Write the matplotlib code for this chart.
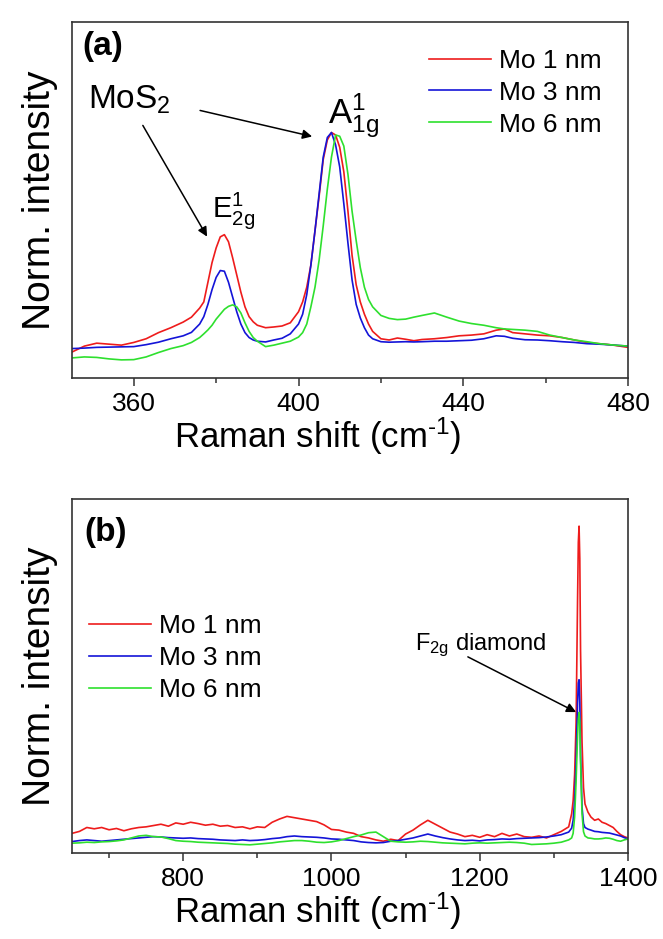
import matplotlib
matplotlib.use('Agg')
import matplotlib.pyplot as plt

plt.rcParams['font.family'] = ['Liberation Sans', 'DejaVu Sans']
plt.rcParams['mathtext.fontset'] = 'custom'
plt.rcParams['mathtext.rm'] = 'Liberation Sans'
plt.rcParams['mathtext.it'] = 'Liberation Sans'

labels = ['Mo 1 nm', 'Mo 3 nm', 'Mo 6 nm']
colors = ['#ee1c1c', '#1414d8', '#2ee02e']

# (a) MoS2 region
shift_a = [345, 348, 351, 354, 357, 360, 363, 366, 369, 372,
           374, 376, 377, 378, 379, 380, 381, 382, 383, 384,
           385, 386, 387, 388, 389, 390, 392, 394, 396, 398,
           400, 401, 402, 403, 404, 405, 406, 407, 408, 409,
           410, 411, 412, 413, 414, 415, 416, 417, 418, 420,
           422, 424, 426, 428, 430, 433, 436, 439, 442, 445,
           448, 450, 452, 455, 458, 461, 464, 467, 470, 473,
           476, 480]
mo1_a = [0.106, 0.130, 0.142, 0.138, 0.134, 0.145, 0.160, 0.185, 0.205, 0.228,
         0.248, 0.285, 0.310, 0.390, 0.470, 0.530, 0.575, 0.584, 0.555, 0.490,
         0.420, 0.350, 0.290, 0.250, 0.229, 0.215, 0.205, 0.208, 0.212, 0.225,
         0.270, 0.310, 0.370, 0.460, 0.600, 0.740, 0.890, 0.970, 1.000, 0.990,
         0.940, 0.840, 0.680, 0.500, 0.380, 0.310, 0.260, 0.220, 0.190, 0.160,
         0.155, 0.163, 0.158, 0.152, 0.157, 0.160, 0.165, 0.172, 0.175, 0.180,
         0.195, 0.200, 0.185, 0.180, 0.175, 0.172, 0.165, 0.155, 0.145, 0.140,
         0.135, 0.125]
mo3_a = [0.120, 0.122, 0.125, 0.126, 0.127, 0.128, 0.136, 0.146, 0.160, 0.172,
         0.186, 0.220, 0.250, 0.300, 0.360, 0.410, 0.438, 0.435, 0.390, 0.330,
         0.270, 0.220, 0.185, 0.165, 0.155, 0.150, 0.147, 0.155, 0.162, 0.180,
         0.220, 0.260, 0.340, 0.460, 0.600, 0.750, 0.900, 0.980, 1.000, 0.950,
         0.860, 0.710, 0.550, 0.400, 0.300, 0.245, 0.205, 0.175, 0.160, 0.148,
         0.146, 0.147, 0.148, 0.147, 0.148, 0.150, 0.150, 0.152, 0.154, 0.160,
         0.172, 0.170, 0.162, 0.156, 0.155, 0.152, 0.148, 0.145, 0.140, 0.138,
         0.135, 0.130]
mo6_a = [0.082, 0.086, 0.084, 0.078, 0.074, 0.075, 0.086, 0.104, 0.120, 0.132,
         0.145, 0.165, 0.180, 0.196, 0.215, 0.240, 0.260, 0.280, 0.292, 0.298,
         0.290, 0.265, 0.225, 0.190, 0.165, 0.150, 0.128, 0.134, 0.142, 0.150,
         0.167, 0.185, 0.220, 0.290, 0.370, 0.480, 0.620, 0.770, 0.900, 0.990,
         0.985, 0.945, 0.830, 0.680, 0.560, 0.450, 0.370, 0.320, 0.290, 0.255,
         0.243, 0.238, 0.240, 0.248, 0.255, 0.265, 0.248, 0.232, 0.222, 0.215,
         0.205, 0.200, 0.198, 0.195, 0.190, 0.175, 0.165, 0.155, 0.148, 0.140,
         0.135, 0.130]

# (b) wide range with diamond line
shift_b = [650, 660, 670, 680, 690, 700, 710, 720, 730, 740,
           750, 760, 770, 780, 790, 800, 810, 820, 830, 840,
           850, 860, 870, 880, 890, 900, 910, 920, 930, 940,
           950, 960, 970, 980, 990, 1000, 1010, 1020, 1030, 1040,
           1050, 1060, 1070, 1080, 1090, 1100, 1110, 1120, 1130, 1140,
           1150, 1160, 1170, 1180, 1190, 1200, 1210, 1220, 1230, 1240,
           1250, 1260, 1270, 1280, 1290, 1300, 1310, 1320,
           1324, 1326, 1328, 1330, 1332, 1333, 1334, 1335, 1336, 1338,
           1340, 1342, 1346, 1350, 1355, 1360, 1365, 1370, 1375, 1380,
           1385, 1390, 1395, 1400]
mo1_b = [0.060, 0.066, 0.078, 0.074, 0.078, 0.071, 0.075, 0.068, 0.074, 0.078,
         0.080, 0.084, 0.088, 0.082, 0.092, 0.088, 0.094, 0.090, 0.085, 0.088,
         0.082, 0.084, 0.078, 0.080, 0.074, 0.080, 0.078, 0.094, 0.104, 0.112,
         0.108, 0.104, 0.100, 0.096, 0.086, 0.072, 0.070, 0.064, 0.060, 0.050,
         0.046, 0.040, 0.036, 0.042, 0.038, 0.058, 0.070, 0.086, 0.100, 0.088,
         0.076, 0.064, 0.058, 0.050, 0.054, 0.048, 0.056, 0.050, 0.060, 0.052,
         0.058, 0.050, 0.048, 0.052, 0.046, 0.056, 0.066, 0.080,
         0.120, 0.160, 0.240, 0.400, 0.780, 0.950, 1.000, 0.900, 0.620, 0.340,
         0.200, 0.150, 0.125, 0.110, 0.100, 0.104, 0.094, 0.090, 0.084, 0.078,
         0.066, 0.056, 0.050, 0.046]
mo3_b = [0.035, 0.038, 0.040, 0.038, 0.036, 0.038, 0.040, 0.042, 0.044, 0.046,
         0.048, 0.050, 0.049, 0.047, 0.046, 0.045, 0.046, 0.044, 0.043, 0.042,
         0.040, 0.039, 0.038, 0.040, 0.038, 0.039, 0.041, 0.044, 0.046, 0.050,
         0.052, 0.050, 0.049, 0.048, 0.046, 0.043, 0.042, 0.040, 0.038, 0.034,
         0.032, 0.031, 0.032, 0.036, 0.038, 0.042, 0.046, 0.052, 0.058, 0.052,
         0.047, 0.043, 0.040, 0.038, 0.039, 0.037, 0.040, 0.041, 0.043, 0.042,
         0.044, 0.045, 0.046, 0.047, 0.049, 0.052, 0.056, 0.064,
         0.076, 0.100, 0.160, 0.280, 0.460, 0.520, 0.530, 0.460, 0.300, 0.140,
         0.090, 0.078, 0.073, 0.070, 0.066, 0.065, 0.063, 0.062, 0.061, 0.058,
         0.055, 0.052, 0.047, 0.043]
mo6_b = [0.030, 0.031, 0.033, 0.032, 0.034, 0.035, 0.037, 0.040, 0.046, 0.052,
         0.054, 0.050, 0.049, 0.044, 0.038, 0.036, 0.035, 0.033, 0.032, 0.031,
         0.030, 0.029, 0.027, 0.026, 0.025, 0.027, 0.029, 0.031, 0.034, 0.036,
         0.038, 0.038, 0.036, 0.033, 0.032, 0.034, 0.038, 0.044, 0.050, 0.055,
         0.062, 0.064, 0.050, 0.036, 0.034, 0.033, 0.034, 0.036, 0.035, 0.033,
         0.031, 0.030, 0.029, 0.028, 0.030, 0.031, 0.030, 0.031, 0.032, 0.033,
         0.032, 0.030, 0.026, 0.027, 0.028, 0.030, 0.033, 0.040,
         0.046, 0.060, 0.110, 0.220, 0.360, 0.410, 0.430, 0.400, 0.280, 0.120,
         0.065, 0.052, 0.046, 0.045, 0.043, 0.043, 0.044, 0.046, 0.045, 0.042,
         0.038, 0.036, 0.040, 0.043]

fig = plt.figure(figsize=(6.63, 9.39), dpi=100)
ax1 = fig.add_axes([0.1086, 0.5974, 0.8386, 0.3791])
ax2 = fig.add_axes([0.1086, 0.0916, 0.8386, 0.3770])

for y, c, l in zip([mo1_a, mo3_a, mo6_a], colors, labels):
    ax1.plot(shift_a, y, color=c, lw=1.2, label=l)
for y, c, l in zip([mo1_b, mo3_b, mo6_b], colors, labels):
    ax2.plot(shift_b, y, color=c, lw=1.2, label=l)

ax1.set_xlim(345, 480)
ax1.set_ylim(0, 1.45)
ax1.set_xticks([360, 400, 440, 480])
ax1.set_xticks([380, 420, 460], minor=True)
ax2.set_xlim(650, 1400)
ax2.set_ylim(0, 1.083)
ax2.set_xticks([800, 1000, 1200, 1400])
ax2.set_xticks([700, 900, 1100, 1300], minor=True)

for ax in (ax1, ax2):
    ax.set_yticks([])
    for s in ax.spines.values():
        s.set_color('#333333')
        s.set_linewidth(1.2)
    ax.tick_params(axis='x', which='major', direction='out', length=6, width=1.1,
                   labelsize=19, pad=4, color='#333333')
    ax.tick_params(axis='x', which='minor', direction='out', length=3.5, width=1.1,
                   color='#333333')
    ax.set_xlabel('Raman shift (cm$\\mathregular{^{\u2010 1}}$)'.replace('\u2010 ', '\u2010'),
                  fontsize=25, labelpad=0)
    ax.xaxis.label.set_x(0.442)
    ax.set_ylabel('Norm. intensity', fontsize=28, labelpad=10)

ax1.text(0.018, 0.907, '(a)', transform=ax1.transAxes, fontsize=24, fontweight='bold')
ax2.text(0.022, 0.881, '(b)', transform=ax2.transAxes, fontsize=24, fontweight='bold')

ax1.legend(loc='upper left', bbox_to_anchor=(0.642, 0.925), frameon=False, fontsize=19,
           handlelength=2.35, handletextpad=0.3, labelspacing=0.3, borderpad=0,
           borderaxespad=0)
ax2.legend(loc='upper left', bbox_to_anchor=(0.03, 0.675), frameon=False, fontsize=19,
           handlelength=2.35, handletextpad=0.3, labelspacing=0.3, borderpad=0,
           borderaxespad=0)

# peak labels
ax1.text(348.9, 1.098, 'MoS$\\mathregular{_2}$', fontsize=24, va='baseline')
ax1.text(407.2, 1.033, '$\\mathregular{A^1_{1g}}$', fontsize=25, va='baseline')
ax1.text(379.0, 0.657, '$\\mathregular{E^1_{2g}}$', fontsize=21, va='baseline')
arrow = dict(arrowstyle='-|>', color='black', lw=1.1, mutation_scale=14, shrinkA=0, shrinkB=0)
ax1.annotate('', xy=(377.8, 0.576), xytext=(362.2, 1.029), arrowprops=arrow)
ax1.annotate('', xy=(403.3, 0.984), xytext=(376.1, 1.09), arrowprops=arrow)

ax2.text(1113, 0.621, '$\\mathregular{F_{2g}}$ diamond', fontsize=17, va='baseline')
ax2.annotate('', xy=(1330, 0.431), xytext=(1184, 0.60), arrowprops=arrow)

fig.savefig('out.png', dpi=100)
